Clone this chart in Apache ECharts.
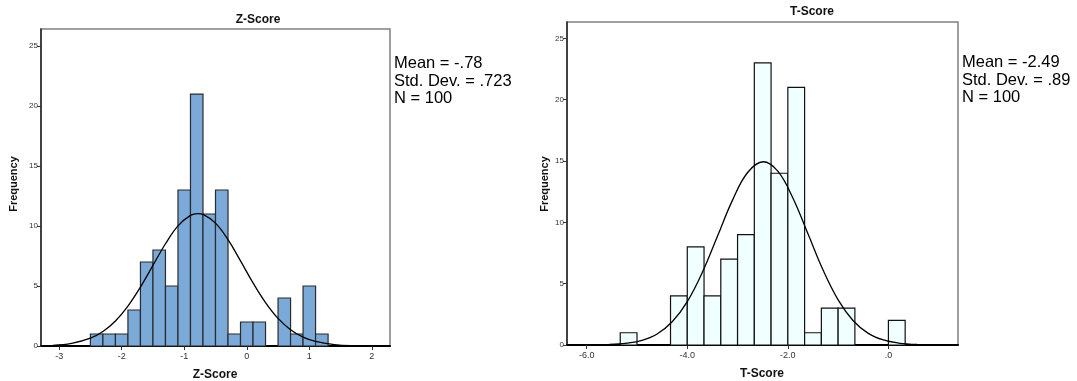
<!DOCTYPE html>
<html>
<head>
<meta charset="utf-8">
<script src="https://cdn.jsdelivr.net/npm/echarts@6/dist/echarts.min.js"></script>
<style>html,body{margin:0;padding:0;background:#fff}#c{width:1077px;height:381px}</style>
</head>
<body>
<div id="c"></div>
<script>
// ---- Z-Score histogram data ----
var zBinStarts = [-2.5,-2.3,-2.1,-1.9,-1.7,-1.5,-1.3,-1.1,-0.9,-0.7,-0.5,-0.3,-0.1,0.1,0.3,0.5,0.7,0.9,1.1];
var zBinWidth = 0.2;
var zCounts    = [1,1,1,3,7,8,5,13,21,11,13,1,2,2,0,4,1,5,1];
var zCurveX = [-3.1,-2.8,-2.5,-2.3,-2.1,-1.9,-1.7,-1.5,-1.3,-1.1,-0.9,-0.78,-0.7,-0.5,-0.3,-0.1,0.1,0.3,0.5,0.7,0.9,1.1,1.4,1.7,2.05];
var zCurveY = [0.06,0.22,0.65,1.21,2.09,3.33,4.91,6.72,8.52,10.01,10.89,11.04,10.97,10.24,8.86,7.09,5.26,3.62,2.30,1.36,0.74,0.38,0.12,0.03,0.01];
var zTicks = [-3,-2,-1,0,1,2];
var zTickLabels = ['-3','-2','-1','0','1','2'];
var zStats = ['Mean = -.78','Std. Dev. = .723','N = 100'];

// ---- T-Score histogram data ----
var tBinStarts = [-16/3,-15/3,-14/3,-13/3,-12/3,-11/3,-10/3,-9/3,-8/3,-7/3,-6/3,-5/3,-4/3,-3/3,-2/3,-1/3,0];
var tBinWidth = 1/3;
var tCounts    = [1,0,0,4,8,4,7,9,23,14,21,1,3,3,0,0,2];
var tCurveX = [-5.55,-5.2,-4.9,-4.6,-4.3,-4.0,-3.7,-3.4,-3.1,-2.8,-2.49,-2.2,-1.9,-1.6,-1.3,-1.0,-0.7,-0.4,-0.1,0.2,0.57];
var tCurveY = [0.04,0.15,0.38,0.90,1.89,3.54,5.93,8.86,11.81,14.06,14.94,14.17,11.99,9.06,6.11,3.68,1.98,0.95,0.41,0.16,0.04];
var tTicks = [-6,-4,-2,0];
var tTickLabels = ['-6.0','-4.0','-2.0','.0'];
var tStats = ['Mean = -2.49','Std. Dev. = .89','N = 100'];

var yTicks = [0,5,10,15,20,25];
var yTickLabels = ['0','5','10','15','20','25'];

var FONT = '"Liberation Sans", Arial, sans-serif';

function histData(starts, counts, w){
  return starts.map(function(s,i){ return [s, s + w, counts[i]]; });
}
function pairs(xs, ys){ return xs.map(function(x,i){ return [x, ys[i]]; }); }

function renderBar(fill, stroke){
  return function(params, api){
    var x0 = api.value(0), x1 = api.value(1), v = api.value(2);
    if (!v) return null;
    var p0 = api.coord([x0, 0]);
    var p1 = api.coord([x1, v]);
    return {
      type: 'rect',
      shape: { x: p0[0], y: p1[1], width: p1[0]-p0[0], height: p0[1]-p1[1] },
      style: { fill: fill, stroke: stroke, lineWidth: 1.2 }
    };
  };
}

function xAxisOpt(grid, min, max, ticks, labels){
  return {
    type: 'value', gridIndex: grid, min: min, max: max,
    splitLine: { show: false },
    axisLine: { show: true, onZero: false, lineStyle: { color: '#000', width: 2 } },
    axisTick: { show: true, length: 4, customValues: ticks, lineStyle: { color: '#333' } },
    axisLabel: { customValues: ticks, color: '#333', fontSize: 9, fontFamily: FONT, margin: 6,
      formatter: function(v){ var i = ticks.indexOf(v); return i >= 0 ? labels[i] : ''; } }
  };
}
function yAxisOpt(grid, max){
  return {
    type: 'value', gridIndex: grid, min: 0, max: max,
    splitLine: { show: false },
    axisLine: { show: true, onZero: false, lineStyle: { color: '#222', width: 1.5 } },
    axisTick: { show: true, length: 4, customValues: yTicks, lineStyle: { color: '#333' } },
    axisLabel: { customValues: yTicks, color: '#333', fontSize: 8, fontFamily: FONT, margin: 3,
      formatter: function(v){ var i = yTicks.indexOf(v); return i >= 0 ? yTickLabels[i] : ''; } }
  };
}

var chart = echarts.init(document.getElementById('c'), null, { renderer: 'canvas' });
chart.setOption({
  animation: false,
  backgroundColor: '#fff',
  grid: [
    { left: 41, top: 29, width: 349, height: 317, show: true, borderColor: '#808080', borderWidth: 1.5, backgroundColor: 'transparent' },
    { left: 567, top: 22, width: 391, height: 323, show: true, borderColor: '#808080', borderWidth: 1.5, backgroundColor: 'transparent' }
  ],
  xAxis: [
    xAxisOpt(0, -3.29, 2.29, zTicks, zTickLabels),
    xAxisOpt(1, -6.392, 1.384, tTicks, tTickLabels)
  ],
  yAxis: [ yAxisOpt(0, 26.42), yAxisOpt(1, 26.33) ],
  series: [
    { type: 'custom', xAxisIndex: 0, yAxisIndex: 0, data: histData(zBinStarts, zCounts, zBinWidth),
      renderItem: renderBar('#7BA9D8', '#2b2b2b'), encode: { x: [0,1], y: 2 } },
    { type: 'line', xAxisIndex: 0, yAxisIndex: 0, data: pairs(zCurveX, zCurveY), smooth: 0.4,
      showSymbol: false, lineStyle: { color: '#000', width: 1.3 }, z: 5 },
    { type: 'custom', xAxisIndex: 1, yAxisIndex: 1, data: histData(tBinStarts, tCounts, tBinWidth),
      renderItem: renderBar('#F0FFFF', '#111'), encode: { x: [0,1], y: 2 } },
    { type: 'line', xAxisIndex: 1, yAxisIndex: 1, data: pairs(tCurveX, tCurveY), smooth: 0.4,
      showSymbol: false, lineStyle: { color: '#000', width: 1.3 }, z: 5 }
  ],
  graphic: [
    { type: 'text', x: 258, y: 20, style: { text: 'Z-Score', font: 'bold 12px ' + FONT, fill: '#111', textAlign: 'center', textVerticalAlign: 'middle' } },
    { type: 'text', x: 215, y: 375, style: { text: 'Z-Score', font: 'bold 12px ' + FONT, fill: '#111', textAlign: 'center', textVerticalAlign: 'middle' } },
    { type: 'text', x: 14, y: 184, rotation: Math.PI/2, style: { text: 'Frequency', font: 'bold 11px ' + FONT, fill: '#111', textAlign: 'center', textVerticalAlign: 'middle' } },
    { type: 'text', x: 394, y: 55, style: { text: zStats.join('\n'), font: '16.5px ' + FONT, lineHeight: 17.5, fill: '#000' } },

    { type: 'text', x: 812, y: 12, style: { text: 'T-Score', font: 'bold 12px ' + FONT, fill: '#111', textAlign: 'center', textVerticalAlign: 'middle' } },
    { type: 'text', x: 762, y: 374, style: { text: 'T-Score', font: 'bold 12px ' + FONT, fill: '#111', textAlign: 'center', textVerticalAlign: 'middle' } },
    { type: 'text', x: 545, y: 184, rotation: Math.PI/2, style: { text: 'Frequency', font: 'bold 11px ' + FONT, fill: '#111', textAlign: 'center', textVerticalAlign: 'middle' } },
    { type: 'text', x: 962, y: 54, style: { text: tStats.join('\n'), font: '16.5px ' + FONT, lineHeight: 17.5, fill: '#000' } }
  ]
});
</script>
</body>
</html>
